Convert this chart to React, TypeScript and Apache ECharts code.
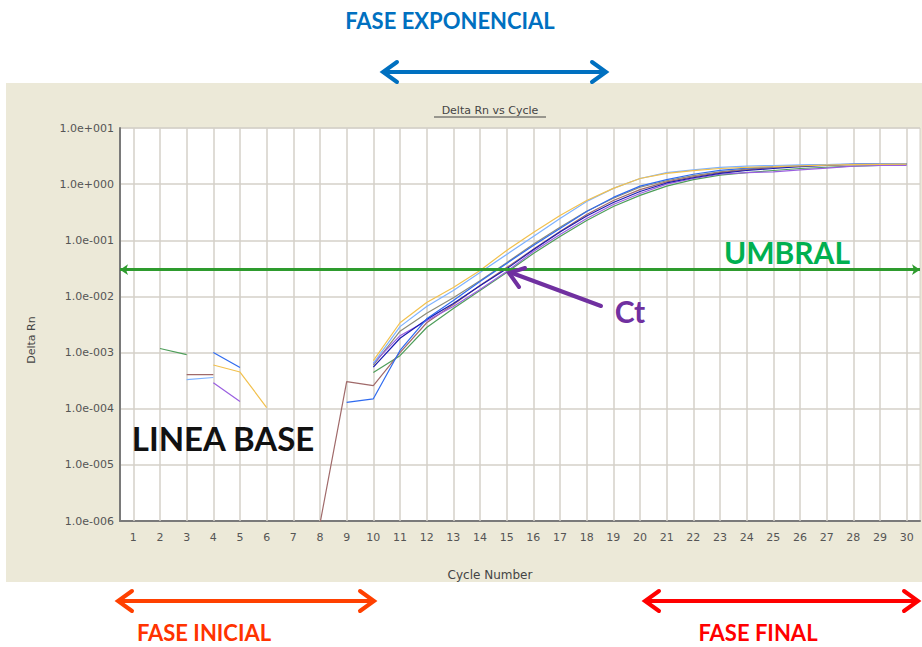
import React, { useEffect, useRef } from "react";
import * as echarts from "echarts";

const cycles = [1, 2, 3, 4, 5, 6, 7, 8, 9, 10, 11, 12, 13, 14, 15, 16, 17, 18, 19, 20, 21, 22, 23, 24, 25, 26, 27, 28, 29, 30];

const yellow = [null, null, null, 6.0e-4, 4.5e-4, 1.05e-4, null, null, null, 7.2e-4, 3.4e-3, 7.8e-3, 0.0144, 0.029, 0.066, 0.138, 0.277, 0.51, 0.84, 1.26, 1.55, 1.74, 1.9, 1.99, 2.05, 2.12, 2.18, 2.22, 2.25, 2.27];
const lightBlue = [null, null, 3.3e-4, 3.6e-4, null, null, null, null, null, 6.4e-4, 2.9e-3, 6.6e-3, 0.0127, 0.0267, 0.056, 0.117, 0.245, 0.49, 0.84, 1.26, 1.6, 1.8, 1.99, 2.1, 2.15, 2.2, 2.24, 2.27, 2.29, 2.3];
const blue = [null, null, null, 1.0e-3, 5.4e-4, null, null, null, 1.3e-4, 1.5e-4, 1.09e-3, 4.0e-3, 8.5e-3, 0.0185, 0.0386, 0.081, 0.162, 0.326, 0.58, 0.92, 1.2, 1.5, 1.76, 1.93, 2.05, 2.15, 2.22, 2.26, 2.28, 2.3];
const purple = [null, null, null, 2.9e-4, 1.34e-4, null, null, null, null, 6.4e-4, 2.0e-3, 3.7e-3, 6.6e-3, 0.0133, 0.0278, 0.063, 0.127, 0.245, 0.434, 0.68, 1.0, 1.26, 1.5, 1.6, 1.66, 1.8, 1.93, 2.1, 2.15, 2.15];
const green = [null, 1.18e-3, 9.2e-4, null, null, null, null, null, null, 4.4e-4, 8.8e-4, 2.8e-3, 6.1e-3, 0.0127, 0.0267, 0.058, 0.117, 0.225, 0.4, 0.63, 0.92, 1.2, 1.45, 1.6, 1.75, 1.9, 2.0, 2.1, 2.15, 2.25];
const brown = [null, null, 4.05e-4, 4.05e-4, null, null, null, 9e-7, 3.04e-4, 2.58e-4, 1.0e-3, 3.4e-3, 7.2e-3, 0.0156, 0.0327, 0.069, 0.144, 0.288, 0.51, 0.8, 1.1, 1.35, 1.6, 1.8, 2.0, 2.1, 2.2, 2.25, 2.27, 2.27];
const darkBlue = [null, null, null, null, null, null, null, null, null, 5.5e-4, 1.8e-3, 3.9e-3, 7.5e-3, 0.0155, 0.031, 0.068, 0.14, 0.27, 0.47, 0.74, 1.05, 1.3, 1.55, 1.75, 1.9, 2.05, 2.15, 2.25, 2.3, 2.3];
const gray = [null, null, null, null, null, null, null, null, null, 6.0e-4, 2.4e-3, 5.0e-3, 9.5e-3, 0.019, 0.04, 0.085, 0.17, 0.33, 0.56, 0.88, 1.15, 1.42, 1.65, 1.85, 2.0, 2.12, 2.2, 2.26, 2.3, 2.32];

const threshold = 0.03;

const yTickLabels = ["1.0e-006", "1.0e-005", "1.0e-004", "1.0e-003", "1.0e-002", "1.0e-001", "1.0e+000", "1.0e+001"];

const seriesDefs = [
  { name: "gray", data: gray, color: "#8C8C78" },
  { name: "green", data: green, color: "#4E9E5A" },
  { name: "brown", data: brown, color: "#A06A6A" },
  { name: "purple", data: purple, color: "#9A5FE0" },
  { name: "darkBlue", data: darkBlue, color: "#1A1AB0" },
  { name: "blue", data: blue, color: "#2F6BF0" },
  { name: "lightBlue", data: lightBlue, color: "#7EB2FF" },
  { name: "yellow", data: yellow, color: "#F2C14E" },
];

function doubleArrow(x1: number, x2: number, y: number, color: string) {
  const lw = 4;
  const dx = 14;
  const dy = 10;
  return [
    { type: "line", z: 100, shape: { x1: x1 + 2, y1: y, x2: x2 - 2, y2: y }, style: { stroke: color, lineWidth: lw, lineCap: "round" } },
    { type: "polyline", z: 100, shape: { points: [[x1 + dx, y - dy], [x1, y], [x1 + dx, y + dy]] }, style: { stroke: color, lineWidth: lw, lineCap: "round", lineJoin: "miter", fill: null } },
    { type: "polyline", z: 100, shape: { points: [[x2 - dx, y - dy], [x2, y], [x2 - dx, y + dy]] }, style: { stroke: color, lineWidth: lw, lineCap: "round", lineJoin: "miter", fill: null } },
  ];
}

function txt(text: string, x: number, y: number, font: string, fill: string, extra: any = {}) {
  return {
    type: "text",
    x,
    y,
    z: 100,
    style: {
      text,
      font,
      fill,
      textAlign: "center",
      textVerticalAlign: "middle",
      align: "center",
      verticalAlign: "middle",
      ...extra,
    },
  };
}

export default function App() {
  const ref = useRef<HTMLDivElement>(null);

  useEffect(() => {
    if (!ref.current) return;
    const chart = echarts.init(ref.current, null, { renderer: "svg" });
    const axisFont = "DejaVu Sans";
    const series: any[] = seriesDefs.map((s) => ({
      type: "line",
      name: s.name,
      z: 3,
      data: cycles.map((c, i) => [c, s.data[i] == null ? "-" : s.data[i]]),
      showSymbol: false,
      symbol: "none",
      lineStyle: { color: s.color, width: 1.2 },
      itemStyle: { color: s.color },
      connectNulls: false,
      clip: true,
    }));
    series[0].markLine = {
      silent: true,
      symbol: ["arrow", "arrow"],
      symbolSize: [8, 8],
      label: { show: false },
      lineStyle: { color: "#2E9B2E", width: 3, type: "solid" },
      data: [{ yAxis: threshold }],
      z: 10,
    };
    // vertical grid lines at each cycle number
    series.unshift({
      type: "line",
      name: "cycleGrid",
      z: 1,
      data: [],
      markLine: {
        silent: true,
        z: 1,
        symbol: ["none", "none"],
        label: { show: false },
        lineStyle: { color: "#D4D0C8", width: 1.5, type: "solid" },
        data: cycles.map((c) => ({ xAxis: c })),
      },
    });

    chart.setOption({
      animation: false,
      backgroundColor: "#ffffff",
      grid: {
        left: 120,
        top: 128,
        right: 2,
        bottom: 126,
        show: true,
        backgroundColor: "#ffffff",
        borderColor: "#D4D0C8",
        borderWidth: 1,
        z: 0,
      },
      xAxis: {
        type: "value",
        min: 0.5,
        max: 30.5,
        axisLine: { show: true, onZero: false, lineStyle: { color: "#7a7a7a", width: 2 } },
        axisTick: { show: false, customValues: cycles },
        axisLabel: {
          customValues: cycles,
          color: "#555",
          fontFamily: axisFont,
          fontSize: 11,
          margin: 11,
        },
        splitLine: { show: false },
      },
      yAxis: {
        type: "log",
        logBase: 10,
        min: 1e-6,
        max: 10,
        axisLine: { show: true, onZero: false, lineStyle: { color: "#7a7a7a", width: 2 } },
        axisTick: { show: false },
        axisLabel: {
          color: "#555",
          fontFamily: axisFont,
          fontSize: 11,
          margin: 6,
          formatter: (v: number) => {
            const e = Math.round(Math.log10(v));
            return yTickLabels[e + 6] ?? "";
          },
        },
        splitLine: { show: true, lineStyle: { color: "#D4D0C8", width: 1.5 } },
      },
      series,
      graphic: [
        { type: "rect", z: -10, silent: true, shape: { x: 6, y: 83, width: 916, height: 499 }, style: { fill: "#ECE9D8" } },
        txt("Delta Rn vs Cycle", 490, 110, `11px ${axisFont}`, "#444"),
        { type: "line", z: 100, shape: { x1: 434, y1: 117, x2: 546, y2: 117 }, style: { stroke: "#444", lineWidth: 1 } },
        txt("Cycle Number", 490, 575, `12px ${axisFont}`, "#444"),
        { ...txt("Delta Rn", 31, 340, `11px ${axisFont}`, "#444"), rotation: Math.PI / 2 },
        txt("FASE EXPONENCIAL", 450, 20, "bold 22px Lato", "#0070C0"),
        ...doubleArrow(383, 606, 72, "#0070C0"),
        txt("UMBRAL", 787, 252, "bold 30px Lato", "#00B050"),
        txt("Ct", 630, 311, "bold 30px Lato", "#7030A0"),
        { type: "line", z: 100, shape: { x1: 601, y1: 306, x2: 512, y2: 273 }, style: { stroke: "#7030A0", lineWidth: 4, lineCap: "round" } },
        { type: "polyline", z: 100, shape: { points: [[525, 268], [509, 273], [519, 287]] }, style: { stroke: "#7030A0", lineWidth: 4, lineCap: "round", fill: null } },
        txt("LINEA BASE", 223, 438, "bold 33px Lato", "#111", { shadowColor: "rgba(0,0,0,0.55)", shadowBlur: 4, shadowOffsetX: 2, shadowOffsetY: 2 }),
        ...doubleArrow(118, 374, 601, "#FF4000"),
        txt("FASE INICIAL", 204, 632, "bold 22px Lato", "#FF3300"),
        ...doubleArrow(645, 918, 601, "#FF0000"),
        txt("FASE FINAL", 758, 632, "bold 22px Lato", "#FF0000"),
      ],
    });
    return () => chart.dispose();
  }, []);

  return <div ref={ref} style={{ position: "absolute", left: 0, top: 0, width: 922, height: 647 }} />;
}
